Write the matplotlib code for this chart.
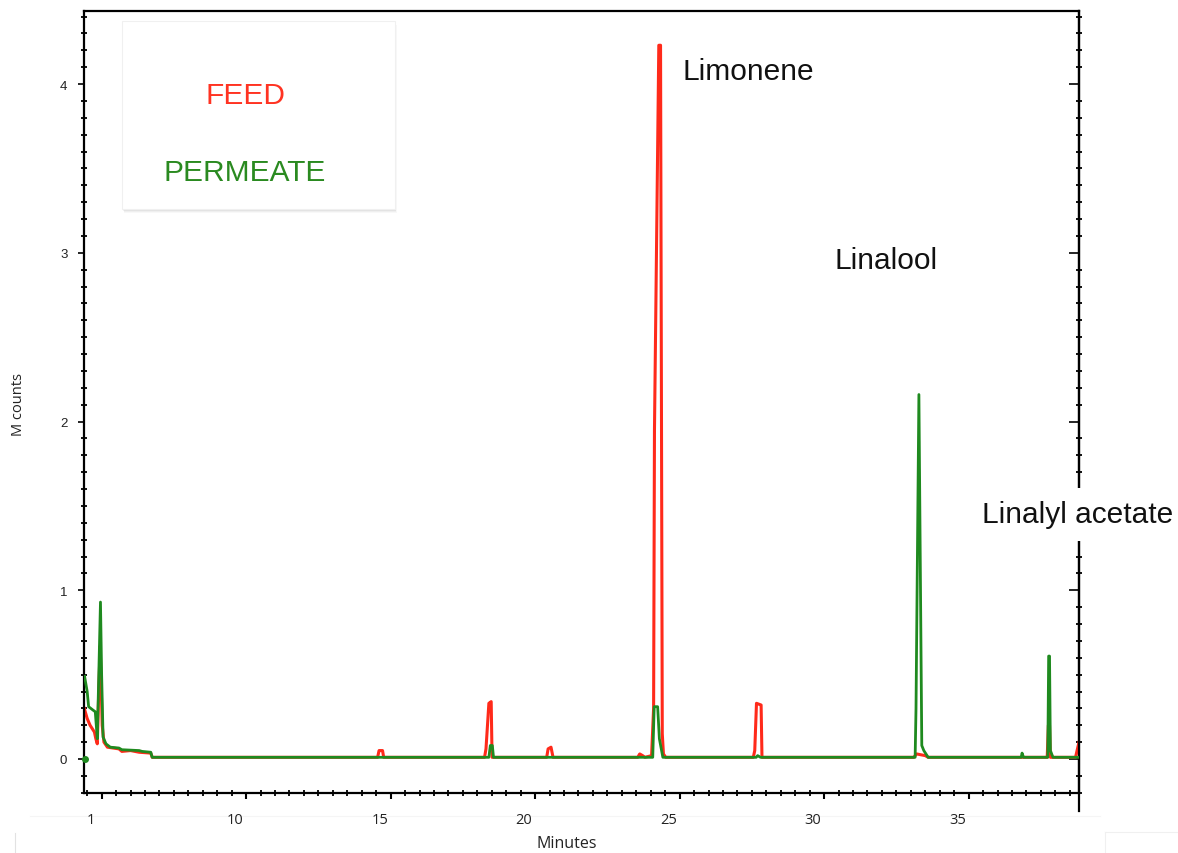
import matplotlib
matplotlib.use("Agg")
import matplotlib.pyplot as plt
import matplotlib.transforms as mtransforms
from matplotlib.patches import Rectangle
from matplotlib.lines import Line2D
from matplotlib.ticker import MultipleLocator, FixedLocator

# chromatogram traces (minutes, M counts)
feed_t = [4.40, 4.50, 4.60, 4.75, 4.80, 4.85, 4.90, 4.95, 5.02, 5.08, 5.20, 5.60, 5.70, 6.00, 6.30, 6.70, 6.75,
          14.55, 14.60, 14.72, 14.76,
          18.25, 18.30, 18.40, 18.48, 18.51,
          20.40, 20.45, 20.55, 20.62,
          23.55, 23.62, 23.72, 23.80,
          24.03, 24.10, 24.13, 24.28, 24.34, 24.40, 24.44, 24.52,
          27.55, 27.60, 27.66, 27.82, 27.85,
          33.10, 33.20, 33.50, 33.60,
          37.72, 37.76, 37.80, 37.83,
          38.70, 38.82]
feed_y = [0.30, 0.24, 0.20, 0.16, 0.12, 0.09, 0.40, 0.67, 0.20, 0.10, 0.07, 0.06, 0.045, 0.05, 0.04, 0.035, 0.01,
          0.01, 0.05, 0.05, 0.01,
          0.01, 0.06, 0.33, 0.34, 0.01,
          0.01, 0.06, 0.07, 0.01,
          0.01, 0.03, 0.02, 0.01,
          0.02, 0.30, 1.95, 4.23, 4.23, 0.15, 0.03, 0.01,
          0.01, 0.05, 0.33, 0.32, 0.01,
          0.01, 0.03, 0.02, 0.01,
          0.01, 0.20, 0.20, 0.01,
          0.01, 0.10]

perm_t = [4.41, 4.50, 4.55, 4.70, 4.78, 4.85, 4.96, 5.00, 5.05, 5.15, 5.30, 5.60, 5.70, 6.30, 6.40, 6.70, 6.75,
          18.40, 18.45, 18.52, 18.56,
          24.07, 24.12, 24.24, 24.30, 24.42,
          27.65, 27.70, 27.80,
          33.15, 33.18, 33.28, 33.38, 33.45, 33.60,
          36.82, 36.85, 36.90,
          37.74, 37.77, 37.80, 37.83, 37.92,
          38.82]
perm_y = [0.49, 0.40, 0.31, 0.29, 0.28, 0.12, 0.93, 0.50, 0.13, 0.09, 0.07, 0.065, 0.055, 0.05, 0.045, 0.04, 0.01,
          0.01, 0.08, 0.08, 0.01,
          0.01, 0.31, 0.31, 0.12, 0.01,
          0.01, 0.02, 0.01,
          0.01, 0.30, 2.16, 0.08, 0.05, 0.01,
          0.01, 0.035, 0.01,
          0.01, 0.61, 0.61, 0.05, 0.01,
          0.01]
perm_dot_t = [4.42]
perm_dot_y = [0.0]

x_ticks = [5, 10, 15, 20, 25, 30, 35]
x_ticklabels = ["1", "10", "15", "20", "25", "30", "35"]
y_ticks = [0, 1, 2, 3, 4]

peaks = ["Limonene", "Linalool", "Linalyl acetate"]
peak_x = [25.09, 30.35, 35.47]
peak_y = [4.08, 2.96, 1.45]

RED = "#ff2a1a"
GREEN = "#1f8a1f"

W, H = 1178, 854
fig = plt.figure(figsize=(W / 100, H / 100), dpi=100)
ax = fig.add_axes([84 / W, 60 / H, 995 / W, 782 / H])

ax.plot(feed_t, feed_y, color=RED, lw=2.2, zorder=2)
ax.plot(perm_t, perm_y, color=GREEN, lw=2.0, zorder=3)
ax.plot(perm_dot_t, perm_dot_y, "o", color=GREEN, ms=4, zorder=3, clip_on=False)

ax.set_xlim(4.39, 38.82)
ax.set_ylim(-0.2015, 4.433)

for s in ax.spines.values():
    s.set_linewidth(1.6)
ax.spines["right"].set_bounds(-0.31, 4.433)

ax.xaxis.set_major_locator(FixedLocator(x_ticks))
ax.set_xticklabels(x_ticklabels, fontsize=10.5, family="Open Sans", color="#222222")
ax.xaxis.set_minor_locator(MultipleLocator(0.5))
ax.yaxis.set_major_locator(FixedLocator(y_ticks))
ax.set_yticklabels([str(v) for v in y_ticks], fontsize=9.5, family="Liberation Sans", color="#222222")
ax.yaxis.set_minor_locator(MultipleLocator(0.1))

ax.tick_params(axis="x", which="major", direction="out", length=4, width=1.5, pad=10)
ax.tick_params(axis="x", which="minor", direction="inout", length=4, width=1.3)
ax.tick_params(axis="y", which="major", direction="out", length=4, width=1.2, pad=8)
ax.tick_params(axis="y", which="minor", direction="inout", length=4, width=1.3)

offset = mtransforms.ScaledTranslation(-11 / 100, 0, fig.dpi_scale_trans)
for lab in ax.get_xticklabels():
    lab.set_transform(lab.get_transform() + offset)

sec = ax.secondary_yaxis("right")
sec.yaxis.set_major_locator(FixedLocator(y_ticks))
sec.yaxis.set_minor_locator(MultipleLocator(0.1))
sec.set_yticklabels([])
sec.spines["right"].set_linewidth(1.6)
sec.tick_params(which="major", direction="in", length=7, width=1.2)
sec.tick_params(which="minor", direction="inout", length=4, width=1.3)

for name, px, py in zip(peaks, peak_x, peak_y):
    ax.text(px, py, name, fontsize=21.5, family="Liberation Sans", color="#111111",
            ha="left", va="center", clip_on=False, zorder=10,
            bbox=dict(facecolor="white", edgecolor="none", pad=9) if name == "Linalyl acetate" else None)

# legend box with a soft shadow
bx, by, bw, bh = 122, 22, 273, 188
for k, a in [(4, 0.05), (3, 0.07), (2, 0.1), (1, 0.12)]:
    fig.add_artist(Rectangle(((bx + k * 0.5) / W, 1 - (by + bh + k) / H), bw / W, bh / H,
                             transform=fig.transFigure, facecolor="#808080", edgecolor="none", alpha=a, zorder=20))
fig.add_artist(Rectangle((bx / W, 1 - (by + bh) / H), bw / W, bh / H, transform=fig.transFigure,
                         facecolor="white", edgecolor="#f0f0f0", lw=0.8, zorder=21))
fig.text(246 / W, 1 - 96 / H, "FEED", color="#ff3322", fontsize=21.5, family="Liberation Sans",
         ha="center", va="center", zorder=22)
fig.text(245 / W, 1 - 173 / H, "PERMEATE", color="#2a8a20", fontsize=21.5, family="Liberation Sans",
         ha="center", va="center", zorder=22)

fig.text(567 / W, 1 - 844 / H, "Minutes", fontsize=11.5, family="Open Sans", color="#222222",
         ha="center", va="center")
fig.text(18 / W, 1 - 405 / H, "M counts", fontsize=10.5, family="Open Sans", color="#222222",
         ha="center", va="center", rotation=90)

# faint crop edges at the bottom of the original screenshot
fig.add_artist(Line2D([30 / W, 1100 / W], [1 - 817 / H] * 2, transform=fig.transFigure,
                      color="#f5f5f5", lw=0.8, zorder=-1))
fig.add_artist(Line2D([15 / W] * 2, [0, 1 - 834 / H], transform=fig.transFigure, color="#e2e2e2", lw=0.8))
fig.add_artist(Line2D([1105 / W, 1], [1 - 833 / H] * 2, transform=fig.transFigure, color="#f0f0f0", lw=0.8))
fig.add_artist(Line2D([1105 / W] * 2, [0, 1 - 833 / H], transform=fig.transFigure, color="#f0f0f0", lw=0.8))

fig.savefig("out.png", dpi=100)
